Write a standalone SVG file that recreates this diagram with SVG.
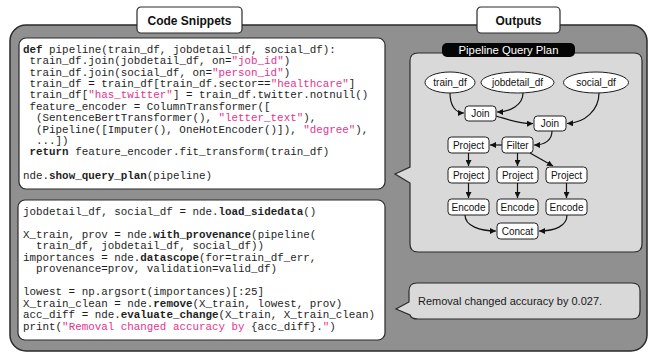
<svg xmlns="http://www.w3.org/2000/svg" width="651" height="354" viewBox="0 0 651 354">
<style>
.code{font-family:"Liberation Mono","Courier New",monospace;font-size:10.87px;fill:#1e1e1e}
.b{font-weight:bold}
.s{fill:#e5338c}
.tab{fill:#fff;stroke:#2a2a2a;stroke-width:1.2}
.tabt{font-family:"Liberation Sans",Arial,sans-serif;font-size:12px;font-weight:bold;fill:#111;text-anchor:middle}
.nd{fill:#fff;stroke:#1e1e1e;stroke-width:1}
.nt{font-family:"Liberation Sans",Arial,sans-serif;font-size:10px;fill:#111;text-anchor:middle}
.e{fill:none;stroke:#111;stroke-width:1.2;marker-end:url(#ah)}
</style>
<defs>
<marker id="ah" markerUnits="userSpaceOnUse" markerWidth="7" markerHeight="6" refX="6" refY="3" orient="auto">
<path d="M0,0 L6,3 L0,6 z" fill="#111"/>
</marker>
</defs>
<g id="background">
<rect x="10" y="25" width="637" height="326" rx="16" fill="#909090" stroke="#2a2a2a" stroke-width="1.5"/>
</g>
<g id="tab-code">
<rect class="tab" x="137" y="7" width="105" height="26" rx="4"/>
<text class="tabt" x="189.5" y="25">Code Snippets</text>
</g>
<g id="tab-outputs">
<rect class="tab" x="477" y="7" width="83" height="26" rx="4"/>
<text class="tabt" x="518.5" y="25">Outputs</text>
</g>
<g id="code1">
<rect x="19" y="38" width="366" height="151" rx="7" fill="#fff" stroke="#2a2a2a" stroke-width="1.2"/>
<text class="code" x="23" y="52.7"><tspan class="b">def</tspan> pipeline(train_df, jobdetail_df, social_df):</text>
<text class="code" x="29.5" y="64.1">train_df.join(jobdetail_df, on=<tspan class="s">"job_id"</tspan>)</text>
<text class="code" x="29.5" y="75.5">train_df.join(social_df, on=<tspan class="s">"person_id"</tspan>)</text>
<text class="code" x="29.5" y="86.9">train_df = train_df[train_df.sector==<tspan class="s">"healthcare"</tspan>]</text>
<text class="code" x="29.5" y="98.3">train_df[<tspan class="s">"has_twitter"</tspan>] = train_df.twitter.notnull()</text>
<text class="code" x="29.5" y="109.7">feature_encoder = ColumnTransformer([</text>
<text class="code" x="36" y="121.1">(SentenceBertTransformer(), <tspan class="s">"letter_text"</tspan>),</text>
<text class="code" x="36" y="132.5">(Pipeline([Imputer(), OneHotEncoder()]), <tspan class="s">"degree"</tspan>),</text>
<text class="code" x="36" y="143.9">...])</text>
<text class="code" x="29.5" y="155.3"><tspan class="b">return</tspan> feature_encoder.fit_transform(train_df)</text>
<text class="code" x="23" y="178.6">nde.<tspan class="b">show_query_plan</tspan>(pipeline)</text>
</g>
<g id="code2">
<rect x="18" y="200" width="367" height="140" rx="7" fill="#fff" stroke="#2a2a2a" stroke-width="1.2"/>
<text class="code" x="23" y="215.3">jobdetail_df, social_df = nde.<tspan class="b">load_sidedata</tspan>()</text>
<text class="code" x="23" y="237.9">X_train, prov = nde.<tspan class="b">with_provenance</tspan>(pipeline(</text>
<text class="code" x="36" y="249.3">train_df, jobdetail_df, social_df))</text>
<text class="code" x="23" y="260.7">importances = nde.<tspan class="b">datascope</tspan>(for=train_df_err,</text>
<text class="code" x="36" y="272.1">provenance=prov, validation=valid_df)</text>
<text class="code" x="23" y="295.4">lowest = np.argsort(importances)[:25]</text>
<text class="code" x="23" y="306.8">X_train_clean = nde.<tspan class="b">remove</tspan>(X_train, lowest, prov)</text>
<text class="code" x="23" y="318.2">acc_diff = nde.<tspan class="b">evaluate_change</tspan>(X_train, X_train_clean)</text>
<text class="code" x="23" y="329.6">print(<tspan class="s">"Removal changed accuracy by</tspan> {acc_diff}.<tspan class="s">"</tspan>)</text>
</g>
<g id="plan-panel">
<path d="M418,53 H634 Q642,53 642,61 V244 Q642,252 634,252 H418 Q410,252 410,244 V183 L395,174 L410,167 V61 Q410,53 418,53 Z" fill="#d9d9d9" stroke="#2a2a2a" stroke-width="1.2"/>
<rect x="442" y="43" width="133" height="14" rx="5" fill="#050505"/>
<text x="508.5" y="54" font-family="Liberation Sans, Arial, sans-serif" font-size="11.3" fill="#fff" text-anchor="middle">Pipeline Query Plan</text>
</g>
<g id="connectors">
<path class="e" d="M450,93 C450,105 455,113 464,113"/>
<path class="e" d="M523,93 C523,105 510,112 497,112"/>
<path class="e" d="M496,116 C510,120 520,124 533,123.5"/>
<path class="e" d="M599,93 C599,110 585,123 567,123.5"/>
<path class="e" d="M552,131 C552,140 545,145 534,145"/>
<path class="e" d="M502,145 L490,145"/>
<path class="e" d="M468.5,153 L468.5,166"/>
<path class="e" d="M517.5,153 L517.5,166"/>
<path class="e" d="M530,153 L553,166"/>
<path class="e" d="M468.5,183 L468.5,198"/>
<path class="e" d="M517.5,183 L517.5,198"/>
<path class="e" d="M566.5,183 L566.5,198"/>
<path class="e" d="M465,215 C465,226 480,231 496,231"/>
<path class="e" d="M567,215 C567,226 555,231 539,231"/>
</g>
<g id="n-train_df"><ellipse class="nd" cx="450" cy="82.5" rx="25" ry="10.5"/><text class="nt" x="450" y="86">train_df</text></g>
<g id="n-jobdetail_df"><ellipse class="nd" cx="517.5" cy="82.5" rx="36.5" ry="10.5"/><text class="nt" x="517.5" y="86">jobdetail_df</text></g>
<g id="n-social_df"><ellipse class="nd" cx="596" cy="82.5" rx="32.5" ry="10.5"/><text class="nt" x="596" y="86">social_df</text></g>
<g id="n-join1"><rect class="nd" x="465" y="106" width="31" height="15" rx="3.5"/><text class="nt" x="480.5" y="117">Join</text></g>
<g id="n-join2"><rect class="nd" x="534" y="116" width="32" height="15" rx="3.5"/><text class="nt" x="550" y="127">Join</text></g>
<g id="n-filter"><rect class="nd" x="502" y="137" width="31" height="16" rx="3.5"/><text class="nt" x="517.5" y="148.5">Filter</text></g>
<g id="n-project1"><rect class="nd" x="448" y="137" width="41" height="16" rx="3.5"/><text class="nt" x="468.5" y="148.5">Project</text></g>
<g id="n-project2a"><rect class="nd" x="448" y="167" width="41" height="16" rx="3.5"/><text class="nt" x="468.5" y="178.5">Project</text></g>
<g id="n-project2b"><rect class="nd" x="497" y="167" width="41" height="16" rx="3.5"/><text class="nt" x="517.5" y="178.5">Project</text></g>
<g id="n-project2c"><rect class="nd" x="546" y="167" width="41" height="16" rx="3.5"/><text class="nt" x="566.5" y="178.5">Project</text></g>
<g id="n-encode1"><rect class="nd" x="448" y="199" width="41" height="16" rx="3.5"/><text class="nt" x="468.5" y="210.5">Encode</text></g>
<g id="n-encode2"><rect class="nd" x="497" y="199" width="41" height="16" rx="3.5"/><text class="nt" x="517.5" y="210.5">Encode</text></g>
<g id="n-encode3"><rect class="nd" x="546" y="199" width="41" height="16" rx="3.5"/><text class="nt" x="566.5" y="210.5">Encode</text></g>
<g id="n-concat"><rect class="nd" x="497" y="223" width="41" height="16" rx="3.5"/><text class="nt" x="517.5" y="234.5">Concat</text></g>
<g id="result-bubble">
<path d="M417,283 H632 Q640,283 640,291 V311 Q640,319 632,319 H418 Q411,319 410,315 L396,309 L409,302 V291 Q409,283 417,283 Z" fill="#d9d9d9" stroke="#2a2a2a" stroke-width="1.2"/>
<text x="418" y="305" font-family="Liberation Sans, Arial, sans-serif" font-size="11" fill="#1a1a1a">Removal changed accuracy by 0.027.</text>
</g>
</svg>
